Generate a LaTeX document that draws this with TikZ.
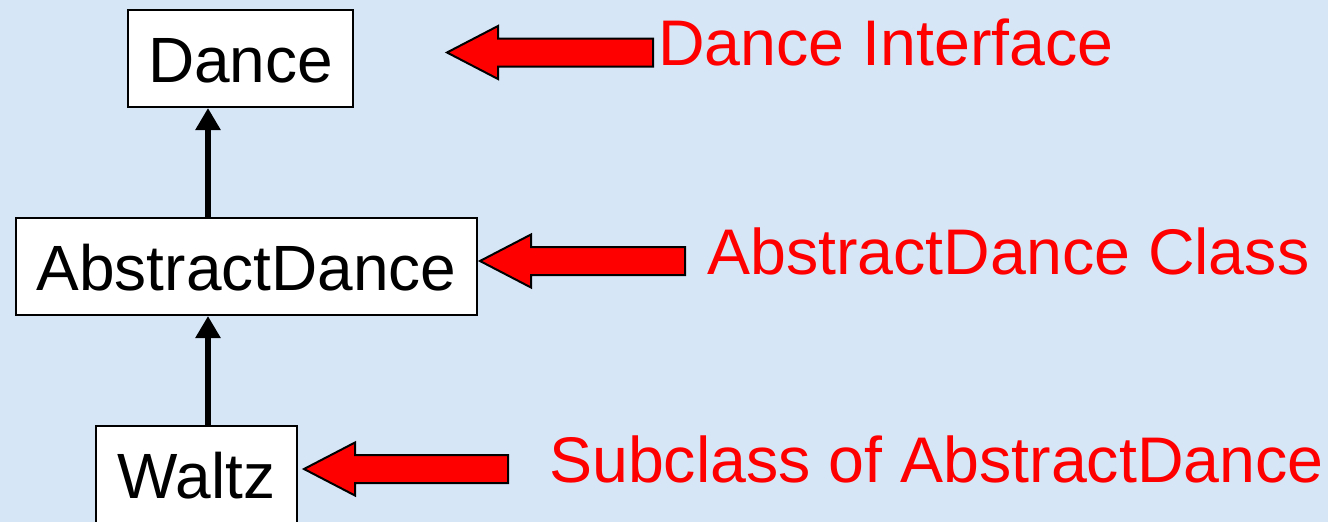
\documentclass[tikz,border=0pt]{standalone}
\usepackage{fontspec}
\setmainfont{Liberation Sans}
\usetikzlibrary{arrows.meta}
\definecolor{bg}{RGB}{214,230,247}
\definecolor{lblred}{RGB}{255,0,0}
\newcommand\myblockarrow[3]{%
  \path[redarrow] (#1,#2) -- (#1+51,#2-26.5) -- (#1+51,#2-14) -- (#3,#2-14)
    -- (#3,#2+14) -- (#1+51,#2+14) -- (#1+51,#2+26.5) -- cycle;}
\begin{document}
\begin{tikzpicture}[x=1pt,y=-1pt,
  box/.style={draw=black,line width=2pt,fill=white,inner sep=0pt,
    text height=47pt,text depth=0pt,minimum height=97pt,
    font=\fontsize{64}{77}\selectfont},
  conn/.style={line width=6.5pt,-{Triangle[width=24pt,length=22pt]}},
  lbl/.style={text=lblred,font=\fontsize{64.5}{78}\selectfont,anchor=base west,inner sep=0pt},
  redarrow/.style={fill=lblred,draw=black,line width=2pt,line join=miter}]
\fill[bg] (0,0) rectangle (1328,522);
\useasboundingbox (0,0) rectangle (1328,522);
\clip (0,0) rectangle (1328,522);
% class boxes
\node[box,minimum width=225pt] (dance) at (240.5,58.5) {Dance};
\node[box,minimum width=461pt] (abstract) at (246.5,266.5) {AbstractDance};
\node[box,minimum width=201pt] (waltz) at (196.5,474.5) {Waltz};
% inheritance connectors
\coordinate (axis) at (208,0);
\draw[conn] (abstract.north -| axis) -- (dance.south -| axis);
\draw[conn] (waltz.north -| axis) -- (abstract.south -| axis);
% red pointer arrows
\myblockarrow{447}{52.5}{653}
\myblockarrow{480}{261}{685}
\myblockarrow{304}{469}{508}
% labels
\node[lbl] (l1) at (658,65) {Dance Interface};
\node[lbl] (l2) at (707,274) {AbstractDance Class};
\node[lbl] (l3) at (549,482) {Subclass of AbstractDance};
\end{tikzpicture}
\end{document}
